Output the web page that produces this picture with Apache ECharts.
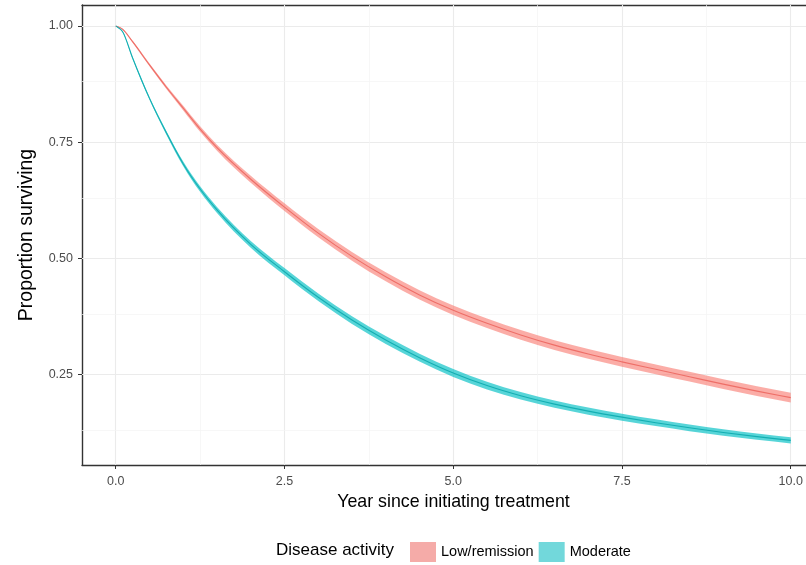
<!DOCTYPE html>
<html>
<head>
<meta charset="utf-8">
<script src="https://cdn.jsdelivr.net/npm/echarts@6/dist/echarts.min.js"></script>
<style>
  html, body { margin: 0; padding: 0; background: #ffffff; }
  #chart { width: 806px; height: 565px; }
</style>
</head>
<body>
<div id="chart"></div>
<script>
// Years since treatment start at which the fitted survival curves are tabulated
const years = [0, 0.1, 0.25, 0.5, 0.75, 1, 1.25, 1.5, 2, 2.5, 3, 3.5, 4, 4.5, 5,
               5.5, 6, 6.5, 7, 7.5, 8, 8.5, 9, 9.5, 10];

// Fitted proportion surviving, low/remission disease activity
const lowRemission = [1.000, 0.993, 0.966, 0.916, 0.868, 0.823, 0.778, 0.738, 0.670, 0.610,
                      0.554, 0.504, 0.460, 0.421, 0.388, 0.360, 0.335, 0.313, 0.294, 0.277,
                      0.261, 0.245, 0.229, 0.214, 0.200];
// Half-width of its confidence band
const lowRemissionHalfWidth = [0, 0.001, 0.002, 0.003, 0.004, 0.005, 0.0058, 0.0065, 0.0075, 0.0082,
                               0.0088, 0.0093, 0.0097, 0.010, 0.0102, 0.0103, 0.0104, 0.0105, 0.0105, 0.0105,
                               0.0105, 0.0105, 0.0105, 0.0105, 0.0105];

// Fitted proportion surviving, moderate disease activity
const moderate = [1.000, 0.988, 0.931, 0.844, 0.770, 0.703, 0.649, 0.604, 0.530, 0.471,
                  0.416, 0.367, 0.324, 0.286, 0.253, 0.226, 0.204, 0.186, 0.171, 0.158,
                  0.146, 0.135, 0.125, 0.116, 0.108];
const moderateHalfWidth = [0, 0.001, 0.002, 0.003, 0.004, 0.005, 0.006, 0.0065, 0.0072, 0.0078,
                           0.0082, 0.0084, 0.0085, 0.0085, 0.0085, 0.0083, 0.0081, 0.0079, 0.0077, 0.0075,
                           0.0073, 0.0071, 0.0069, 0.0067, 0.0065];

// Axis breaks
const xTicks = [0, 2.5, 5, 7.5, 10];
const xMinor = [1.25, 3.75, 6.25, 8.75];
const yTicks = [0.25, 0.5, 0.75, 1.0];
const yMinor = [0.125, 0.375, 0.625, 0.875];

const legendNames = ['Low/remission', 'Moderate'];

const FONT = '"Liberation Sans", Arial, Helvetica, sans-serif';
const BORDER = '#333333';

const chart = echarts.init(document.getElementById('chart'), null, { renderer: 'canvas' });

// Smooth cubic path through pixel points (x increasing or decreasing),
// using Hermite tangents from neighbouring secants.
function hermitePath(pts, start) {
  const n = pts.length;
  const d = [];
  for (let i = 0; i < n - 1; i++) {
    d.push((pts[i + 1][1] - pts[i][1]) / (pts[i + 1][0] - pts[i][0]));
  }
  const m = pts.map((p, i) => {
    if (i === 0) return d[0];
    if (i === n - 1) return d[n - 2];
    const h0 = pts[i][0] - pts[i - 1][0];
    const h1 = pts[i + 1][0] - pts[i][0];
    return (d[i - 1] * h1 + d[i] * h0) / (h0 + h1);
  });
  let s = (start ? 'M' : 'L') + pts[0][0].toFixed(2) + ' ' + pts[0][1].toFixed(2);
  for (let i = 0; i < n - 1; i++) {
    const dx = (pts[i + 1][0] - pts[i][0]) / 3;
    const c1 = [pts[i][0] + dx, pts[i][1] + m[i] * dx];
    const c2 = [pts[i + 1][0] - dx, pts[i + 1][1] - m[i + 1] * dx];
    s += ' C' + c1[0].toFixed(2) + ' ' + c1[1].toFixed(2) + ' '
             + c2[0].toFixed(2) + ' ' + c2[1].toFixed(2) + ' '
             + pts[i + 1][0].toFixed(2) + ' ' + pts[i + 1][1].toFixed(2);
  }
  return s;
}

// Confidence ribbon: upper bound out, lower bound back, closed
function ribbon(name, mid, hw, fill) {
  return {
    name: name,
    type: 'custom',
    silent: true,
    clip: true,
    z: 2,
    itemStyle: { color: fill },
    data: [0],
    renderItem: function (params, api) {
      const upper = years.map((x, i) => api.coord([x, mid[i] + hw[i]]));
      const lower = years.map((x, i) => api.coord([x, mid[i] - hw[i]])).reverse();
      return {
        type: 'path',
        shape: { pathData: hermitePath(upper, true) + ' ' + hermitePath(lower, false) + ' Z' },
        style: { fill: fill, stroke: null }
      };
    }
  };
}

// Fitted survival curve drawn on top of its ribbon
function centreLine(name, mid, color) {
  return {
    name: name,
    type: 'custom',
    silent: true,
    clip: true,
    z: 3,
    data: [0],
    renderItem: function (params, api) {
      const pts = years.map((x, i) => api.coord([x, mid[i]]));
      return {
        type: 'path',
        shape: { pathData: hermitePath(pts, true) },
        style: { fill: null, stroke: color, lineWidth: 1.1 }
      };
    }
  };
}

const majorGrid = { color: '#EBEBEB', width: 1.1, type: 'solid' };
const minorGrid = { color: '#F3F3F3', width: 0.7, type: 'solid' };
const gridLines = [
  ...xTicks.map(v => ({ xAxis: v, lineStyle: majorGrid })),
  ...yTicks.map(v => ({ yAxis: v, lineStyle: majorGrid })),
  ...xMinor.map(v => ({ xAxis: v, lineStyle: minorGrid })),
  ...yMinor.map(v => ({ yAxis: v, lineStyle: minorGrid }))
];

const gridSeries = {
  name: 'panel grid',
  type: 'line', data: [], silent: true, z: 1,
  markLine: {
    silent: true, animation: false, z: 1,
    symbol: ['none', 'none'],
    label: { show: false },
    emphasis: { disabled: true },
    data: gridLines
  }
};

const option = {
  animation: false,
  backgroundColor: '#ffffff',
  textStyle: { fontFamily: FONT },
  title: {
    text: 'Disease activity',
    left: 276, top: 542,
    padding: 0,
    textStyle: { fontFamily: FONT, fontSize: 17, fontWeight: 'normal', color: '#000000' }
  },
  legend: {
    data: [
      { name: legendNames[0], itemStyle: { color: '#F5ABA8' } },
      { name: legendNames[1], itemStyle: { color: '#72D8DB' } }
    ],
    left: 410, top: 542,
    padding: 0,
    icon: 'rect',
    itemWidth: 26, itemHeight: 20,
    itemGap: 5,
    selectedMode: false,
    textStyle: { fontFamily: FONT, fontSize: 14.5, color: '#000000' }
  },
  grid: {
    left: 82, top: 5, right: 0, bottom: 100,
    show: false
  },
  xAxis: [
    {
      type: 'value',
      min: -0.5, max: 10.226,
      name: 'Year since initiating treatment',
      nameLocation: 'middle',
      nameGap: 25,
      nameTextStyle: { fontFamily: FONT, fontSize: 17.8, color: '#000000', padding: [0, 0, 0, 19] },
      axisLine: { show: true, onZero: false, lineStyle: { color: BORDER, width: 1.4 } },
      axisTick: { show: true, customValues: xTicks, length: 4, lineStyle: { color: BORDER, width: 1 } },
      axisLabel: {
        customValues: xTicks, margin: 10,
        fontFamily: FONT, fontSize: 12.5, color: '#4D4D4D',
        formatter: v => v.toFixed(1)
      },
      splitLine: { show: false }
    },
    {
      // top edge of the panel frame
      type: 'value', position: 'top',
      min: -0.5, max: 10.226,
      axisLine: { show: true, onZero: false, lineStyle: { color: BORDER, width: 1.4 } },
      axisTick: { show: false }, axisLabel: { show: false }, splitLine: { show: false }
    }
  ],
  yAxis: {
    type: 'value',
    min: 0.055, max: 1.045,
    name: 'Proportion surviving',
    nameLocation: 'middle',
    nameGap: 45,
    nameTextStyle: { fontFamily: FONT, fontSize: 19.5, color: '#000000' },
    axisLine: { show: true, onZero: false, lineStyle: { color: BORDER, width: 1.4 } },
    axisTick: { show: true, customValues: yTicks, length: 4, lineStyle: { color: BORDER, width: 1 } },
    axisLabel: {
      customValues: yTicks, margin: 9,
      fontFamily: FONT, fontSize: 12.5, color: '#4D4D4D',
      formatter: v => v.toFixed(2)
    },
    splitLine: { show: false }
  },
  series: [
    gridSeries,
    ribbon(legendNames[0], lowRemission, lowRemissionHalfWidth, 'rgba(248,118,109,0.6)'),
    ribbon(legendNames[1], moderate, moderateHalfWidth, 'rgba(0,191,196,0.66)'),
    centreLine('Low/remission fit', lowRemission, '#EE6E67'),
    centreLine('Moderate fit', moderate, '#14AEB2')
  ]
};

chart.setOption(option);
</script>
</body>
</html>
